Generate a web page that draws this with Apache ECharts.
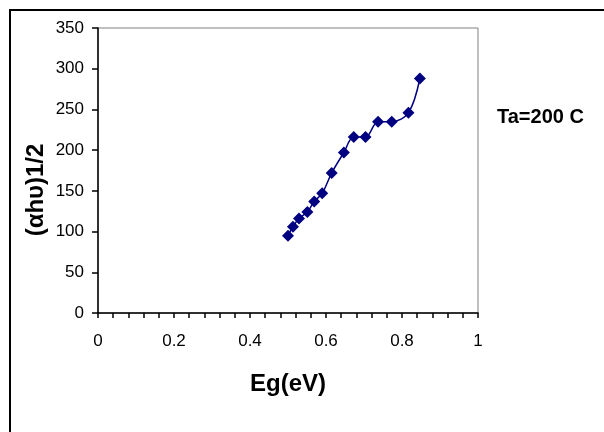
<!DOCTYPE html>
<html>
<head>
<meta charset="utf-8">
<script src="https://cdn.jsdelivr.net/npm/echarts@6/dist/echarts.min.js"></script>
<style>
  html, body { margin: 0; padding: 0; background: #fff; }
  #chart { width: 604px; height: 432px; }
</style>
</head>
<body>
<div id="chart"></div>
<script>
// Band gap energy (eV) and (αhυ)^1/2 for the sample annealed at 200 C
const energyEg = [0.500, 0.513, 0.529, 0.551, 0.569, 0.590, 0.615, 0.647, 0.673, 0.704, 0.737, 0.773, 0.817, 0.847];
const alphaHv = [95, 106, 116, 124, 137, 147, 172, 197, 216, 216, 235, 235, 246, 288];
const xTicks = [0, 0.2, 0.4, 0.6, 0.8, 1];
const yTicks = [0, 50, 100, 150, 200, 250, 300, 350];

const FONT = '"Liberation Sans", Arial, sans-serif';
const chart = echarts.init(document.getElementById('chart'), null, { renderer: 'canvas' });

chart.setOption({
  backgroundColor: '#ffffff',
  animation: false,
  grid: {
    left: 98, right: 126, top: 28, bottom: 119,
    show: true, borderColor: '#808080', borderWidth: 1, backgroundColor: 'transparent'
  },
  xAxis: {
    type: 'value',
    min: xTicks[0], max: xTicks[xTicks.length - 1], interval: 0.2,
    axisLine: { show: true, onZero: false, lineStyle: { color: '#000', width: 1.5 } },
    axisTick: { show: true, inside: false, length: 5, lineStyle: { color: '#000', width: 1.5 } },
    minorTick: { show: true, splitNumber: 5, length: 5, lineStyle: { color: '#000', width: 1.5 } },
    splitLine: { show: false },
    axisLabel: { color: '#000', fontFamily: FONT, fontSize: 17, margin: 20,
      formatter: v => String(Math.round(v * 10) / 10) }
  },
  yAxis: {
    type: 'value',
    min: yTicks[0], max: yTicks[yTicks.length - 1], interval: 50,
    axisLine: { show: true, onZero: false, lineStyle: { color: '#000', width: 1.5 } },
    axisTick: { show: true, inside: false, length: 6, lineStyle: { color: '#000', width: 1.5 } },
    splitLine: { show: false },
    axisLabel: { color: '#000', fontFamily: FONT, fontSize: 17, margin: 14 }
  },
  graphic: [
    { type: 'rect', left: 9, top: 9, z: -1, silent: true,
      shape: { width: 700, height: 500 },
      style: { fill: 'transparent', stroke: '#000', lineWidth: 2 } },
    { type: 'text', x: 36, y: 190, rotation: Math.PI / 2,
      style: { text: '(αhυ)1/2', fontFamily: FONT, fontSize: 24, fontWeight: 'bold',
        fill: '#000', align: 'center', verticalAlign: 'middle' } },
    { type: 'text', x: 288, y: 384,
      style: { text: 'Eg(eV)', fontFamily: FONT, fontSize: 24, fontWeight: 'bold',
        fill: '#000', align: 'center', verticalAlign: 'middle' } },
    { type: 'text', x: 497, y: 117,
      style: { text: 'Ta=200 C', fontFamily: FONT, fontSize: 20, fontWeight: 'bold',
        fill: '#000', align: 'left', verticalAlign: 'middle' } }
  ],
  series: [{
    type: 'line',
    data: energyEg.map((e, i) => [e, alphaHv[i]]),
    smooth: 0.35,
    symbol: 'diamond',
    symbolSize: 12,
    showAllSymbol: true,
    lineStyle: { color: '#000080', width: 1.5 },
    itemStyle: { color: '#000080' }
  }]
});
</script>
</body>
</html>
